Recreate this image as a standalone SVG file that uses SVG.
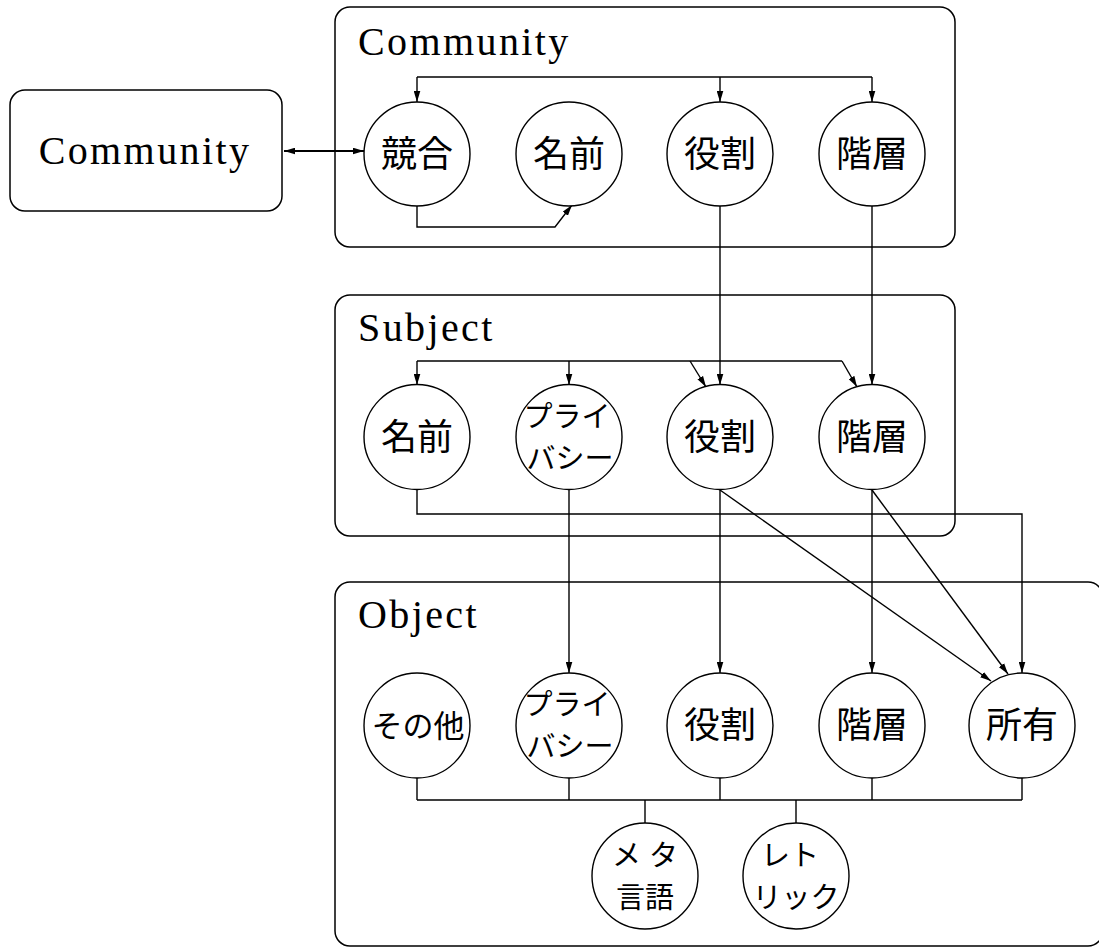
<svg xmlns="http://www.w3.org/2000/svg" width="1099" height="949" viewBox="0 0 1099 949">
  <style>
    .frame { fill: #fff; stroke: #000; stroke-width: 1.5; }
    .node { fill: #fff; stroke: #000; stroke-width: 1.4; }
    .title { font-family: "Liberation Serif", serif; font-size: 40px; letter-spacing: 2.4px; fill: #000; }
    .jp { font-family: "Noto Sans CJK JP", sans-serif; font-size: 36px; fill: #000; text-anchor: middle; }
    .jp3 { font-family: "Noto Sans CJK JP", sans-serif; font-size: 31px; fill: #000; text-anchor: middle; }
    .jp2 { font-family: "Noto Sans CJK JP", sans-serif; font-size: 29px; fill: #000; text-anchor: middle; }
    .wire { fill: none; stroke: #000; stroke-width: 1.4; }
    .arrow { fill: none; stroke: #000; stroke-width: 1.4; marker-end: url(#ah); }
  </style>
  <defs>
    <marker id="ah" viewBox="0 0 10 6" refX="10" refY="3" markerWidth="11" markerHeight="7" markerUnits="userSpaceOnUse" orient="auto-start-reverse">
      <path d="M0,0 L10,3 L0,6 z" fill="#000"/>
    </marker>
  </defs>
  <rect width="1099" height="949" fill="#fff"/>

  <!-- group frames -->
  <g id="frame-community">
    <rect class="frame" x="335" y="7" width="620" height="240" rx="15"/>
    <text class="title" x="358" y="55">Community</text>
  </g>
  <g id="frame-subject">
    <rect class="frame" x="335" y="295" width="620" height="241" rx="15"/>
    <text class="title" x="358" y="341">Subject</text>
  </g>
  <g id="frame-object">
    <rect class="frame" x="335" y="582" width="768" height="364" rx="15"/>
    <text class="title" x="358" y="628">Object</text>
  </g>

  <!-- external community box -->
  <g id="community-ext">
    <rect class="frame" x="10" y="90" width="272" height="121" rx="15"/>
    <text class="title" x="145" y="164" text-anchor="middle">Community</text>
  </g>

  <!-- connectors -->
  <g id="connectors">
    <path d="M284,151 H364" style="fill:none;stroke:#000;stroke-width:2;marker-start:url(#ah);marker-end:url(#ah)"/>
    <!-- community internal -->
    <path class="wire" d="M417,77 H872"/>
    <path class="arrow" d="M417,77 V102"/>
    <path class="arrow" d="M720,77 V102"/>
    <path class="arrow" d="M872,77 V102"/>
    <path class="arrow" d="M417,206 V227 H555 L572,205"/>
    <!-- community to subject -->
    <path class="arrow" d="M720,206 V385"/>
    <path class="arrow" d="M872,206 V385"/>
    <!-- subject internal -->
    <path class="wire" d="M417,361 H842"/>
    <path class="arrow" d="M417,361 V385"/>
    <path class="arrow" d="M569,361 V385"/>
    <path class="arrow" d="M690,361 L706,387"/>
    <path class="arrow" d="M842,361 L857,387"/>
    <!-- subject to object -->
    <path class="arrow" d="M417,490 V514 H1022 V673"/>
    <path class="arrow" d="M569,490 V673"/>
    <path class="arrow" d="M720,490 V673"/>
    <path class="arrow" d="M872,490 V673"/>
    <path class="arrow" d="M720,490 L991,681"/>
    <path class="arrow" d="M872,490 L1008,674"/>
    <!-- object bus -->
    <path class="wire" d="M417,778 V800 M569,778 V800 M720,778 V800 M872,778 V800 M1022,778 V800 M417,800 H1022 M645,800 V823 M796,800 V823"/>
  </g>

  <!-- community nodes -->
  <g id="c-kyougou"><ellipse class="node" cx="417" cy="154" rx="53" ry="52"/><text class="jp" x="417" y="167">競合</text></g>
  <g id="c-namae"><ellipse class="node" cx="569" cy="154" rx="53" ry="52"/><text class="jp" x="569" y="167">名前</text></g>
  <g id="c-yakuwari"><ellipse class="node" cx="720" cy="154" rx="53" ry="52"/><text class="jp" x="720" y="167">役割</text></g>
  <g id="c-kaisou"><ellipse class="node" cx="872" cy="154" rx="53" ry="52"/><text class="jp" x="872" y="167">階層</text></g>

  <!-- subject nodes -->
  <g id="s-namae"><ellipse class="node" cx="417" cy="437" rx="53" ry="52.5"/><text class="jp" x="417" y="450">名前</text></g>
  <g id="s-privacy"><ellipse class="node" cx="569" cy="437" rx="53" ry="52.5"/><text class="jp2"><tspan x="567" y="427">プライ</tspan><tspan x="570" y="469">バシー</tspan></text></g>
  <g id="s-yakuwari"><ellipse class="node" cx="720" cy="437" rx="53" ry="52.5"/><text class="jp" x="720" y="450">役割</text></g>
  <g id="s-kaisou"><ellipse class="node" cx="872" cy="437" rx="53" ry="52.5"/><text class="jp" x="872" y="450">階層</text></g>

  <!-- object nodes -->
  <g id="o-sonota"><ellipse class="node" cx="417" cy="725.5" rx="53" ry="52.5"/><text class="jp3" x="418" y="737">その他</text></g>
  <g id="o-privacy"><ellipse class="node" cx="569" cy="725.5" rx="53" ry="52.5"/><text class="jp2"><tspan x="567" y="715">プライ</tspan><tspan x="570" y="757">バシー</tspan></text></g>
  <g id="o-yakuwari"><ellipse class="node" cx="720" cy="725.5" rx="53" ry="52.5"/><text class="jp" x="720" y="738">役割</text></g>
  <g id="o-kaisou"><ellipse class="node" cx="872" cy="725.5" rx="53" ry="52.5"/><text class="jp" x="872" y="738">階層</text></g>
  <g id="o-shoyuu"><ellipse class="node" cx="1022" cy="725.5" rx="53" ry="52.5"/><text class="jp" x="1022" y="738">所有</text></g>
  <g id="o-meta"><ellipse class="node" cx="645" cy="876" rx="53" ry="53"/><text class="jp2"><tspan x="649" y="866" letter-spacing="8">メタ</tspan><tspan x="645" y="908" letter-spacing="0">言語</tspan></text></g>
  <g id="o-rhetoric"><ellipse class="node" cx="796" cy="876" rx="53" ry="53"/><text class="jp2"><tspan x="790" y="866">レト</tspan><tspan x="796" y="908">リック</tspan></text></g>
</svg>
